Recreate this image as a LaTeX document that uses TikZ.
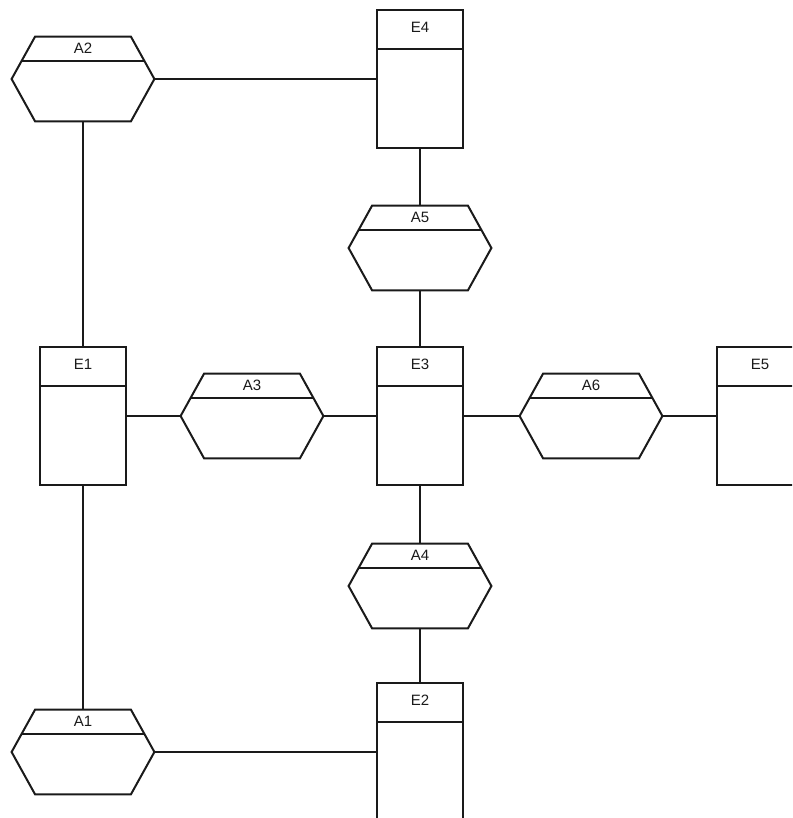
\documentclass[tikz,border=0pt]{standalone}
\usepackage{fontspec}
\setmainfont{Liberation Sans}
\usepackage{tikz}
\usetikzlibrary{positioning, calc}
\definecolor{ink}{HTML}{1A1A1A}
\tikzset{
  entity/.style   = {rectangle, draw=ink, line width=1pt, fill=white,
                     minimum width=43pt, minimum height=69pt, inner sep=0pt,
                     path picture={
                       \draw[ink, line width=1pt]
                         ([yshift=-19.5pt]path picture bounding box.north west) --
                         ([yshift=-19.5pt]path picture bounding box.north east);
                       \node[font=\fontsize{7.5pt}{8pt}\selectfont, text=ink]
                         at ([yshift=-8.5pt]path picture bounding box.north) {#1};
                     }},
  relation/.style = {rectangle, draw=none, minimum width=71pt, minimum height=42pt,
                     inner sep=0pt,
                     append after command={\pgfextra{
                       \draw[ink, line width=1pt, line join=miter]
                         (\tikzlastnode.west) -- ([xshift=11.75pt]\tikzlastnode.north west)
                         -- ([xshift=-11.75pt]\tikzlastnode.north east) -- (\tikzlastnode.east)
                         -- ([xshift=-11.75pt]\tikzlastnode.south east)
                         -- ([xshift=11.75pt]\tikzlastnode.south west) -- cycle;
                       \draw[ink, line width=1pt]
                         ([shift={(5pt,-12pt)}]\tikzlastnode.north west) --
                         ([shift={(-5pt,-12pt)}]\tikzlastnode.north east);
                       \node[font=\fontsize{7.5pt}{8pt}\selectfont, text=ink]
                         at ([yshift=-6pt]\tikzlastnode.north) {#1};
                     }}},
  link/.style     = {draw=ink, line width=1pt},
}

\begin{document}
\begin{tikzpicture}[x=0.5pt, y=-0.5pt]
  \clip (0,0) rectangle (792,818);

  % Entities
  \node[entity=E1] (e1) at (83,416) {};
  \node[entity=E2] (e2) at (420,752) {};
  \node[entity=E3] (e3) at (420,416) {};
  \node[entity=E4] (e4) at (420,79) {};
  \node[entity=E5] (e5) at (760,416) {};

  % Relationships
  \node[relation=A1] (a1) at (83,752) {};
  \node[relation=A2] (a2) at (83,79) {};
  \node[relation=A3] (a3) at (252,416) {};
  \node[relation=A4] (a4) at (420,586) {};
  \node[relation=A5] (a5) at (420,248) {};
  \node[relation=A6] (a6) at (591,416) {};

  % Links
  \draw[link] (a2) -- (e4);
  \draw[link] (a2) -- (e1);
  \draw[link] (e4) -- (a5);
  \draw[link] (a5) -- (e3);
  \draw[link] (e1) -- (a3);
  \draw[link] (a3) -- (e3);
  \draw[link] (e3) -- (a6);
  \draw[link] (a6) -- (e5);
  \draw[link] (e3) -- (a4);
  \draw[link] (a4) -- (e2);
  \draw[link] (e1) -- (a1);
  \draw[link] (a1) -- (e2);
\end{tikzpicture}
\end{document}
